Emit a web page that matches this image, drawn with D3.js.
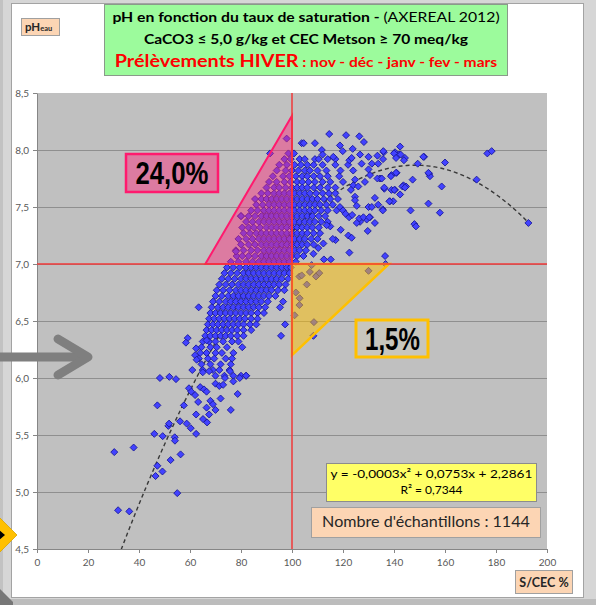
<!DOCTYPE html>
<html>
<head>
<meta charset="utf-8">
<script src="https://cdn.jsdelivr.net/npm/d3@7"></script>
<style>
  html, body { margin: 0; padding: 0; background: #d6d6d6; }
  svg { display: block; }
</style>
</head>
<body>
<svg id="chart" width="596" height="605"></svg>
<script>
// ---- data -------------------------------------------------------------
const xTickValues = [0, 20, 40, 60, 80, 100, 120, 140, 160, 180, 200];
const yTickValues = [4.5, 5.0, 5.5, 6.0, 6.5, 7.0, 7.5, 8.0, 8.5];
const yGridValues = [5.0, 5.5, 6.0, 6.5, 7.0, 7.5, 8.0];

// polynomial trend: a*x^2 + b*x + c
const trendCoefs = [-0.000254, 0.0753, 2.2861];
const trendR2 = 0.7344;
const trendRange = [33, 192];

const sampleCount = 1144;
const phLimit = 7.0;
const satLimit = 100;
const acidShare = 24.0;   // % of samples pH > 7 with S/CEC < 100
const basicShare = 1.5;   // % of samples pH < 7 with S/CEC > 100
const acidZone = [[66, 7.0], [100, 8.3], [100, 7.0]];
const basicZone = [[100, 7.0], [138, 7.0], [100, 6.2]];

// dense core of the cloud: [pH, [S/CEC values...]]
const coreRows = [
  [8.10, [97.9]],
  [7.97, [91.4, 98.6, 100.8]],
  [7.92, [97, 99.5, 103, 105, 109, 110.5, 114, 117]],
  [7.87, [95, 98, 101, 103.5, 106, 108.5, 112, 117, 122]],
  [7.82, [94, 97.5, 100, 102.5, 105, 107, 110, 113.5, 119, 124]],
  [7.77, [92.5, 96.5, 99, 101.5, 104, 106, 108.5, 111, 114, 118.5]],
  [7.72, [91, 94, 97, 99.5, 102, 104, 106.5, 109, 112, 115, 120]],
  [7.67, [90, 93, 95, 97.5, 100, 102, 104, 106, 108.5, 111, 114, 117]],
  [7.62, [88, 90.5, 93, 95, 97, 99, 101, 103, 105, 107, 109.5, 112, 114.5, 117]],
  [7.57, [85.5, 88, 90, 92, 94, 96, 98, 100, 102, 104, 106, 108, 110, 112.5, 115, 118]],
  [7.52, [86, 88.5, 91, 93, 95, 97, 99, 101, 103, 105, 107, 109, 111, 113.5, 116]],
  [7.47, [84, 86.5, 89, 91, 93, 95, 97, 99, 101, 103, 105, 107, 109, 111.5, 114, 117.5]],
  [7.42, [80, 83, 85.5, 88, 90, 92, 94, 96, 98, 100, 102, 104, 106, 108, 110.5, 113]],
  [7.37, [82, 84.5, 87, 89, 91, 93, 95, 97, 99, 101, 103, 105, 107, 109, 111.5, 114]],
  [7.32, [80.5, 83, 85, 87.5, 90, 92, 94, 96, 98, 100, 102, 104, 106, 108, 110.5]],
  [7.27, [81, 83.5, 86, 88, 90, 92, 94, 96, 98, 100, 102, 104, 106, 108.5, 111]],
  [7.22, [79, 82, 84.5, 87, 89, 91, 93, 95, 97, 99, 101, 103, 105, 107.5, 110]],
  [7.17, [80, 83, 85.5, 88, 90, 92, 94, 96, 98, 100, 102, 104, 106, 108.5]],
  [7.12, [78, 81, 84, 86.5, 89, 91, 93, 95, 97, 99, 101, 103, 105.5]],
  [7.07, [78.3, 80.5, 83, 85.5, 88, 90, 92, 94, 96, 98, 100, 102, 104.5]],
  [7.02, [76, 79, 82, 84.5, 87, 89, 91, 93, 95, 97, 99, 101.5]],
  [6.97, [74.5, 77, 79.5, 82, 84, 86, 88, 90, 92, 94, 96, 98, 99.5]],
  [6.92, [73.5, 76, 78.5, 81, 83, 85, 87, 89, 91, 93, 95, 97, 99]],
  [6.87, [72.5, 75, 77.5, 80, 82, 84, 86, 88, 90, 92, 94, 96, 98.5]],
  [6.82, [71.5, 74, 76.5, 79, 81, 83, 85, 87, 89, 91, 93, 95, 97.5]],
  [6.77, [70.5, 73, 75.5, 78, 80, 82, 84, 86, 88, 90, 92, 94.5, 97]],
  [6.72, [70, 72.5, 75, 77, 79, 81, 83, 85, 87, 89, 91, 93.5]],
  [6.67, [69, 71.5, 74, 76, 78, 80, 82, 84, 86, 88, 90.5, 96.5]],
  [6.62, [68.5, 71, 73, 75, 77, 79, 81, 83, 85, 87, 89.5, 95.3]],
  [6.57, [68, 70, 72, 74, 76, 78, 80, 82, 84, 86.5, 89]],
  [6.52, [67.5, 69.5, 71.5, 73.5, 75.5, 77.5, 79.5, 81.5, 84, 86.5]],
  [6.47, [67, 69, 71, 73, 75, 77, 79, 81, 83.5, 86, 97.3]],
  [6.42, [66.5, 68.5, 70.5, 72.5, 74.5, 76.5, 78.5, 81, 84]],
  [6.37, [66, 68, 70, 72, 74, 76, 78.5, 81, 95.7]],
  [6.32, [65, 67.5, 70, 73, 76.5, 79]],
  [6.27, [64.5, 68, 70.5, 74.5, 80.5]],
  [6.22, [64, 66.5, 70, 72.5, 77]],
  [6.17, [63.5, 67, 69.5, 74, 76.5]],
  [6.12, [64.5, 68, 72, 76]],
  [6.07, [65, 69, 71.5, 75.5]],
  [6.02, [70, 73.5, 77, 80, 82]]
];

// scattered samples around the core: [S/CEC, pH]
const scatterPoints = [
  [63.4, 6.62], [59.1, 6.35], [58.4, 6.31], [66.5, 6.33], [62.4, 6.26], [62, 6.20], [62.6, 6.16],
  [66.5, 6.22], [60.9, 6.07], [48.2, 6.0], [51.9, 6.01], [54.5, 5.99], [65, 6.05], [67.5, 6.06],
  [59.6, 5.91], [60.5, 5.88], [62, 5.85], [64, 5.92], [65.5, 5.9], [66.5, 5.88], [47.2, 5.76],
  [57.6, 5.76], [63.2, 5.79], [66.5, 5.74], [62.4, 5.68], [56.1, 5.62], [51.5, 5.58], [51.8, 5.6],
  [58.7, 5.60], [60.3, 5.56], [65.1, 5.64], [66.7, 5.61], [62.4, 5.51], [46, 5.51], [49.3, 5.49],
  [54, 5.48], [54.1, 5.45], [30.3, 5.35], [37.9, 5.39], [56.3, 5.33], [52.4, 5.28], [47.2, 5.23],
  [49.2, 5.18], [46.5, 5.14], [55, 4.99], [31.8, 4.84], [36.2, 4.83], [68, 5.8], [69, 5.77],
  [70, 5.72], [67.5, 5.68], [72, 5.82], [76, 5.72], [78.7, 5.86], [77, 5.97], [79.5, 6.0],
  [82, 6.02], [73.7, 6.0], [70, 5.95], [71.5, 5.93], [73, 5.94], [75.7, 6.06],
  [114.6, 8.14], [121.2, 8.13], [126.4, 8.12], [128.2, 8.07], [103.8, 8.06], [104.6, 8.06],
  [109, 8.06], [118.8, 8.04], [123.8, 8.01], [119.9, 7.99], [111.7, 8.0], [112, 7.96],
  [116.2, 7.94], [126.7, 7.96], [122.5, 7.91], [123.4, 7.93], [130, 7.94], [133.5, 7.95],
  [136, 7.98], [135.7, 7.92], [140.4, 7.98], [142.4, 8.03], [142, 7.96], [144.3, 7.93],
  [149.3, 7.88], [151.8, 7.94], [160, 7.89], [127.3, 7.88], [131.3, 7.88], [130, 7.83],
  [130.6, 7.78], [134.5, 7.75], [139, 7.78], [141, 7.80], [128.6, 7.72], [124.7, 7.74],
  [124, 7.69], [126, 7.68], [136.2, 7.66], [139, 7.65], [140.4, 7.65], [143.7, 7.69],
  [144.7, 7.68], [147.3, 7.74], [153.8, 7.79], [154.1, 7.77], [158.7, 7.68], [142.4, 7.61],
  [138.4, 7.55], [139.7, 7.55], [132.5, 7.58], [133.8, 7.52], [135.6, 7.48], [130, 7.50],
  [125.4, 7.51], [124.7, 7.59], [124.7, 7.56], [123.1, 7.65], [153.5, 7.53], [146.5, 7.47],
  [158, 7.45], [148, 7.35], [148.6, 7.33], [130.6, 7.41], [129.3, 7.39], [126.7, 7.37],
  [125.4, 7.36], [129.7, 7.29], [132.5, 7.36], [122.1, 7.25], [123.4, 7.23], [119.1, 7.30],
  [122.5, 7.10], [136.5, 7.07], [115.2, 7.04], [112.5, 7.04], [117.1, 7.21], [116, 7.22],
  [112.3, 7.18], [110.3, 7.14], [108.4, 7.09], [115, 7.33], [113.6, 7.34], [118.8, 7.50],
  [120, 7.47], [121, 7.44], [122.4, 7.41], [123.6, 7.43], [126.4, 7.40], [128, 7.41],
  [130.3, 7.41], [131.3, 7.50], [133.5, 7.75], [133.8, 7.88], [192.7, 7.36], [176.6, 7.97],
  [178.3, 7.99], [172.4, 7.74], [135.8, 7.99], [140, 7.97], [140.8, 7.93], [142.6, 7.96],
  [143.9, 7.91], [138.8, 7.77], [140.8, 7.80], [135.2, 7.75], [140.1, 7.65], [136.2, 7.67],
  [138.2, 7.55], [143.3, 7.68], [144.3, 7.67], [135.6, 7.47], [153.5, 7.80], [151.5, 7.94],
  [80, 7.42], [78, 7.11],
  [102.9, 6.89], [103.8, 6.90], [107, 6.93], [109.7, 6.90], [110.7, 6.92], [109.4, 6.89],
  [105.8, 6.82], [130, 6.94], [136.7, 7.0], [107.7, 6.99], [102.9, 6.64], [108.6, 6.49],
  [108.4, 6.37], [101.5, 6.75], [101, 6.55], [103, 6.70]
];

// ---- layout -------------------------------------------------------------
const W = 596, H = 605;
const plot = { l: 37, r: 547, t: 93, b: 549 };
const x = d3.scaleLinear().domain([0, 200]).range([plot.l, plot.r]);
const y = d3.scaleLinear().domain([4.5, 8.5]).range([plot.b, plot.t]);
const fr = d3.formatLocale({ decimal: ",", thousands: " ", grouping: [3], currency: ["", " €"], minus: "-" });
const fmt1 = fr.format(".1f");
const fmt4 = fr.format(".4f");

const svg = d3.select("#chart");
const FONT = "Lato, 'Open Sans', 'Liberation Sans', sans-serif";

// squeeze or stretch a centered text horizontally to a given width
function fitWidth(sel, cx, width) {
  const w = sel.node().getBBox().width;
  const k = width / w;
  sel.attr("transform", `translate(${cx},0) scale(${k},1) translate(${-cx},0)`);
}

// ---- frame --------------------------------------------------------------
svg.append("rect").attr("width", W).attr("height", H).attr("fill", "#d6d6d6");
svg.append("rect").attr("x", 0).attr("y", 0).attr("width", 3).attr("height", H).attr("fill", "#c2c2c2");
svg.append("rect").attr("x", 11.5).attr("y", 3.5).attr("width", 572).attr("height", 594)
  .attr("fill", "#ffffff").attr("stroke", "#a3a3a3");
svg.append("rect").attr("x", 0).attr("y", 599).attr("width", W).attr("height", 6).attr("fill", "#bcbcbc");
svg.append("path").attr("d", "M0,589L13,602L13,605L0,605Z").attr("fill", "#777");

// ---- plot area ------------------------------------------------------------
svg.append("rect").attr("x", plot.l).attr("y", plot.t)
  .attr("width", plot.r - plot.l).attr("height", plot.b - plot.t).attr("fill", "#c0c0c0");

svg.append("defs").append("clipPath").attr("id", "plotClip")
  .append("rect").attr("x", plot.l).attr("y", plot.t)
  .attr("width", plot.r - plot.l).attr("height", plot.b - plot.t);

svg.append("g").selectAll("line").data(yGridValues).join("line")
  .attr("x1", plot.l).attr("x2", plot.r)
  .attr("y1", d => y(d) + 0.5).attr("y2", d => y(d) + 0.5)
  .attr("stroke", "#8f8f8f").attr("stroke-width", 1);

// axes
const xAxis = svg.append("g").attr("transform", `translate(0,${plot.b})`)
  .call(d3.axisBottom(x).tickValues(xTickValues).tickSize(4).tickSizeOuter(0).tickPadding(6)
    .tickFormat(d3.format("d")));
const yAxis = svg.append("g").attr("transform", `translate(${plot.l},0)`)
  .call(d3.axisLeft(y).tickValues(yTickValues).tickSize(4).tickSizeOuter(0).tickPadding(4)
    .tickFormat(fmt1));
[xAxis, yAxis].forEach(g => {
  g.select(".domain").attr("stroke", "#868686");
  g.selectAll(".tick line").attr("stroke", "#868686");
  g.selectAll(".tick text").attr("fill", "#595959").attr("font-family", FONT).attr("font-size", 10);
});

// trend curve (under the markers)
const trendFn = v => trendCoefs[0] * v * v + trendCoefs[1] * v + trendCoefs[2];
svg.append("path")
  .datum(d3.range(trendRange[0], trendRange[1] + 0.01, 1))
  .attr("clip-path", "url(#plotClip)")
  .attr("d", d3.line().x(d => x(d)).y(d => y(trendFn(d))))
  .attr("fill", "none").attr("stroke", "#383838").attr("stroke-width", 1.4)
  .attr("stroke-dasharray", "4,3");

// samples
const samples = coreRows.flatMap(([ph, list]) => list.map(s => [s, ph])).concat(scatterPoints);
const diamond = "M0,-3.5L3.5,0L0,3.5L-3.5,0Z";
svg.append("g").selectAll("path").data(samples).join("path")
  .attr("d", diamond)
  .attr("transform", d => `translate(${x(d[0])},${y(d[1])})`)
  .attr("fill", "#4242ff").attr("stroke", "#1a1a9a").attr("stroke-width", 0.9);

// highlighted zones
const zoneLine = d3.line().x(d => x(d[0])).y(d => y(d[1])).curve(d3.curveLinearClosed);
svg.append("path").datum(acidZone).attr("d", zoneLine)
  .attr("fill", "rgba(255,40,125,0.45)").attr("stroke", "#ff1a6e").attr("stroke-width", 2)
  .attr("stroke-linejoin", "miter");
svg.append("path").datum(basicZone).attr("d", zoneLine)
  .attr("fill", "rgba(255,192,0,0.5)").attr("stroke", "#ffc000").attr("stroke-width", 2.5);

// thresholds
svg.append("line").attr("x1", plot.l).attr("x2", plot.r)
  .attr("y1", y(phLimit)).attr("y2", y(phLimit))
  .attr("stroke", "#f03a3a").attr("stroke-width", 1.5);
svg.append("line").attr("x1", x(satLimit)).attr("x2", x(satLimit))
  .attr("y1", plot.t).attr("y2", plot.b)
  .attr("stroke", "#f03a3a").attr("stroke-width", 1.5);

// share labels
const acidBox = { x: 126, y: 154, w: 92, h: 38 };
svg.append("rect").attr("x", acidBox.x).attr("y", acidBox.y).attr("width", acidBox.w).attr("height", acidBox.h)
  .attr("fill", "rgba(255,40,125,0.45)").attr("stroke", "#ff1a6e").attr("stroke-width", 2.5);
const acidText = svg.append("text").attr("x", acidBox.x + acidBox.w / 2).attr("y", 184)
  .attr("text-anchor", "middle").attr("font-family", "'Liberation Sans', Arial, sans-serif")
  .attr("font-weight", "bold").attr("font-size", 31).attr("fill", "#000")
  .text(fmt1(acidShare) + "%");
fitWidth(acidText, acidBox.x + acidBox.w / 2, 73);

const basicBox = { x: 356, y: 320, w: 72, h: 37 };
svg.append("rect").attr("x", basicBox.x).attr("y", basicBox.y).attr("width", basicBox.w).attr("height", basicBox.h)
  .attr("fill", "#c8c6bd").attr("stroke", "#ffc000").attr("stroke-width", 3);
const basicText = svg.append("text").attr("x", 392.5).attr("y", 350)
  .attr("text-anchor", "middle").attr("font-family", "'Liberation Sans', Arial, sans-serif")
  .attr("font-weight", "bold").attr("font-size", 31).attr("fill", "#000")
  .text(fmt1(basicShare) + "%");
fitWidth(basicText, 392.5, 55);

// equation box
svg.append("rect").attr("x", 326.5).attr("y", 463.5).attr("width", 210).attr("height", 38)
  .attr("fill", "#ffff66").attr("stroke", "#8c8c8c");
const eq = svg.append("text").attr("x", 431.5).attr("y", 478)
  .attr("text-anchor", "middle").attr("font-family", FONT).attr("font-size", 12).attr("fill", "#000")
  .text(`y = ${fmt4(trendCoefs[0])}x² + ${fmt4(trendCoefs[1])}x + ${fmt4(trendCoefs[2])}`);
fitWidth(eq, 431.5, 202);
svg.append("text").attr("x", 431.5).attr("y", 494)
  .attr("text-anchor", "middle").attr("font-family", FONT).attr("font-size", 12).attr("fill", "#000")
  .text(`R² = ${fmt4(trendR2)}`);

// sample count
svg.append("rect").attr("x", 311.5).attr("y", 507.5).attr("width", 229).attr("height", 30)
  .attr("fill", "#fcd5b4").attr("stroke", "#a0a0a0");
const cnt = svg.append("text").attr("x", 426).attr("y", 527.5)
  .attr("text-anchor", "middle").attr("font-family", FONT).attr("font-size", 14.5).attr("fill", "#262626")
  .text(`Nombre d'échantillons : ${sampleCount}`);
fitWidth(cnt, 426, 208);

// axis title boxes
svg.append("rect").attr("x", 515.5).attr("y", 570.5).attr("width", 57).attr("height", 23)
  .attr("fill", "#fcd5b4").attr("stroke", "#a0a0a0");
svg.append("text").attr("x", 544).attr("y", 587)
  .attr("text-anchor", "middle").attr("font-family", FONT).attr("font-weight", "bold")
  .attr("font-size", 12.5).attr("fill", "#262626").text("S/CEC %");

svg.append("rect").attr("x", 21.5).attr("y", 18.5).attr("width", 38).attr("height", 17)
  .attr("fill", "#fcd5b4").attr("stroke", "#a0a0a0");
const ph = svg.append("text").attr("x", 25).attr("y", 31)
  .attr("font-family", FONT).attr("font-weight", "bold").attr("fill", "#262626");
ph.append("tspan").attr("font-size", 11.5).text("pH");
ph.append("tspan").attr("font-size", 7.5).text("eau");

// title
svg.append("rect").attr("x", 104.5).attr("y", 4.5).attr("width", 403).attr("height", 71)
  .attr("fill", "#9cfb9c").attr("stroke", "#8a9a8a");
const t1 = svg.append("text").attr("x", 306).attr("y", 22)
  .attr("text-anchor", "middle").attr("font-family", FONT).attr("font-size", 14).attr("fill", "#000");
t1.append("tspan").attr("font-weight", "bold").text("pH en fonction du taux de saturation - ");
t1.append("tspan").text("(AXEREAL 2012)");
fitWidth(t1, 306, 388);
const t2 = svg.append("text").attr("x", 306).attr("y", 44)
  .attr("text-anchor", "middle").attr("font-family", FONT).attr("font-size", 14)
  .attr("font-weight", "bold").attr("fill", "#000")
  .text("CaCO3 ≤ 5,0 g/kg et CEC Metson ≥ 70 meq/kg");
fitWidth(t2, 306, 325);
const t3 = svg.append("text").attr("x", 306).attr("y", 67)
  .attr("text-anchor", "middle").attr("font-family", FONT).attr("font-weight", "bold").attr("fill", "#ff0000");
t3.append("tspan").attr("font-size", 16.5).text("Prélèvements HIVER");
t3.append("tspan").attr("font-size", 13).text(" : nov - déc - janv - fev - mars");
fitWidth(t3, 306, 383);

// side arrow
svg.append("path").attr("d", "M-10,357H86").attr("stroke", "#7f7f7f").attr("stroke-width", 9)
  .attr("stroke-linecap", "round").attr("fill", "none");
svg.append("path").attr("d", "M58,339L88,357L58,375").attr("stroke", "#7f7f7f").attr("stroke-width", 9)
  .attr("stroke-linecap", "round").attr("stroke-linejoin", "round").attr("fill", "none");

// corner marker
svg.append("path").attr("d", "M17,535L-10,508L-37,535L-10,562Z").attr("fill", "#ffc000")
  .attr("stroke", "#d9a400").attr("stroke-width", 0.8);
svg.append("path").attr("d", "M-2,529L5,535L-2,541Z").attr("fill", "#000");
</script>
</body>
</html>
